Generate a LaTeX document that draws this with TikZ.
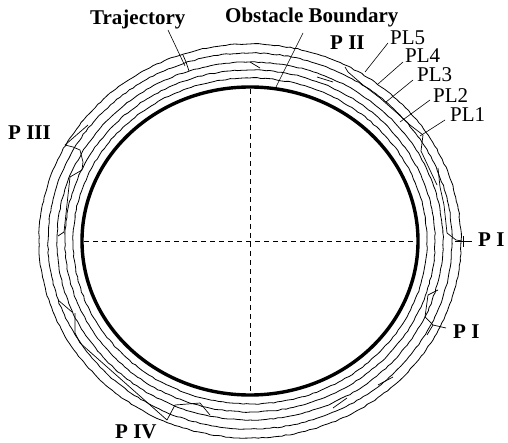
\documentclass[tikz,border=0pt]{standalone}
\usepackage{fontspec}
\setmainfont{Liberation Serif}
\usetikzlibrary{decorations.pathmorphing}
\begin{document}
\begin{tikzpicture}[x=1pt,y=1pt,
  ring/.style={line width=0.8pt, decorate, decoration={random steps, segment length=4pt, amplitude=0.5pt}},
  traj/.style={line width=0.7pt, line join=round},
  lead/.style={line width=0.6pt},
  lbl/.style={font=\fontsize{21}{21}\selectfont\bfseries, inner sep=0pt, anchor=base west},
  pl/.style={font=\fontsize{21}{21}\selectfont, inner sep=0pt, anchor=base west},
  axis/.style={line width=0.8pt, dash pattern=on 5pt off 4pt}]
\pgfmathsetseed{7}
\useasboundingbox (0,0) rectangle (508,-443);
\coordinate (C) at (250,-241);
% obstacle boundary
\draw[line width=3.4pt] (C) ellipse [x radius=168, y radius=154];
% potential rings PL1..PL5
\foreach \d in {9,17,25,34,43}{
  \pgfmathsetmacro{\rx}{168+\d}
  \pgfmathsetmacro{\ry}{154+\d}
  \draw[ring] (C) ellipse [x radius=\rx, y radius=\ry];
}
% axes
\coordinate (vt) at (250,-89);
\coordinate (vb) at (250,-393);
\coordinate (hl) at (84,-241);
\coordinate (hr) at (416,-241);
\draw[axis] (vt) -- (vb);
\draw[axis] (hl) -- (hr);
% trajectory transitions
\draw[traj] (462,-241) -- (456,-240) -- (447,-233) -- (444,-205) -- (440,-187) -- (438,-168);
\draw[traj] (423,-135) -- (421,-151) -- (437,-185);
\draw[traj] (345,-67) -- (348,-72) -- (363,-85) -- (380,-98) -- (397,-113) -- (410,-125) -- (423,-135);
\draw[traj] (250,-62) -- (260,-68);
\draw[traj] (317,-77) -- (333,-82);
\draw[traj] (183,-55) -- (186,-62) -- (189,-71);
\draw[traj] (88,-125) -- (65,-145) -- (73,-147) -- (80,-150) -- (83,-162) -- (82,-170) -- (70,-177) -- (64,-232) -- (58,-236);
\draw[traj] (58,-300) -- (72,-312);
\draw[traj] (75,-313) -- (75,-333) -- (80,-343) -- (167,-420) -- (175,-405) -- (200,-403) -- (210,-415);
\draw[traj] (333,-408) -- (347,-398);
\draw[traj] (378,-385) -- (393,-377);
\draw[traj] (438,-290) -- (428,-295) -- (425,-317) -- (433,-325) -- (446,-328);
\draw[traj] (433,-325) -- (427,-335);
% P I marker
\coordinate (pxl) at (455,-241);
\coordinate (pxr) at (472,-241);
\coordinate (pxt) at (463,-236);
\coordinate (pxb) at (463,-247);
\draw[lead] (pxl) -- (pxr);
\draw[lead] (pxt) -- (pxb);
% labels
\node[lbl] (trj) at (90,-25) {Trajectory};
\node[lbl] (obs) at (225,-23) {Obstacle Boundary};
\node[lbl] (p2) at (330,-50) {P II};
\node[pl] (pl5) at (390,-45) {PL5};
\node[pl] (pl4) at (405,-63) {PL4};
\node[pl] (pl3) at (417,-82) {PL3};
\node[pl] (pl2) at (433,-103) {PL2};
\node[pl] (pl1) at (450,-122) {PL1};
\node[lbl] (p3) at (8,-140) {P III};
\node[lbl] (p4) at (115,-438) {P IV};
\node[lbl] (p1a) at (478,-247) {P I};
\node[lbl] (p1b) at (453,-338) {P I};
% leaders
\coordinate (trjS) at (168,-30);  \coordinate (trjE) at (185,-66);
\coordinate (obsS) at (303,-33);  \coordinate (obsE) at (276,-87);
\coordinate (pl5S) at (388,-43);  \coordinate (pl5E) at (365,-72);
\coordinate (pl4S) at (403,-62);  \coordinate (pl4E) at (378,-84);
\coordinate (pl3S) at (413,-80);  \coordinate (pl3E) at (386,-102);
\coordinate (pl2S) at (430,-100); \coordinate (pl2E) at (400,-122);
\coordinate (pl1S) at (445,-120); \coordinate (pl1E) at (420,-136);
\draw[lead] (trjS) -- (trjE);
\draw[lead] (obsS) -- (obsE);
\draw[lead] (pl5S) -- (pl5E);
\draw[lead] (pl4S) -- (pl4E);
\draw[lead] (pl3S) -- (pl3E);
\draw[lead] (pl2S) -- (pl2E);
\draw[lead] (pl1S) -- (pl1E);
\end{tikzpicture}
\end{document}
